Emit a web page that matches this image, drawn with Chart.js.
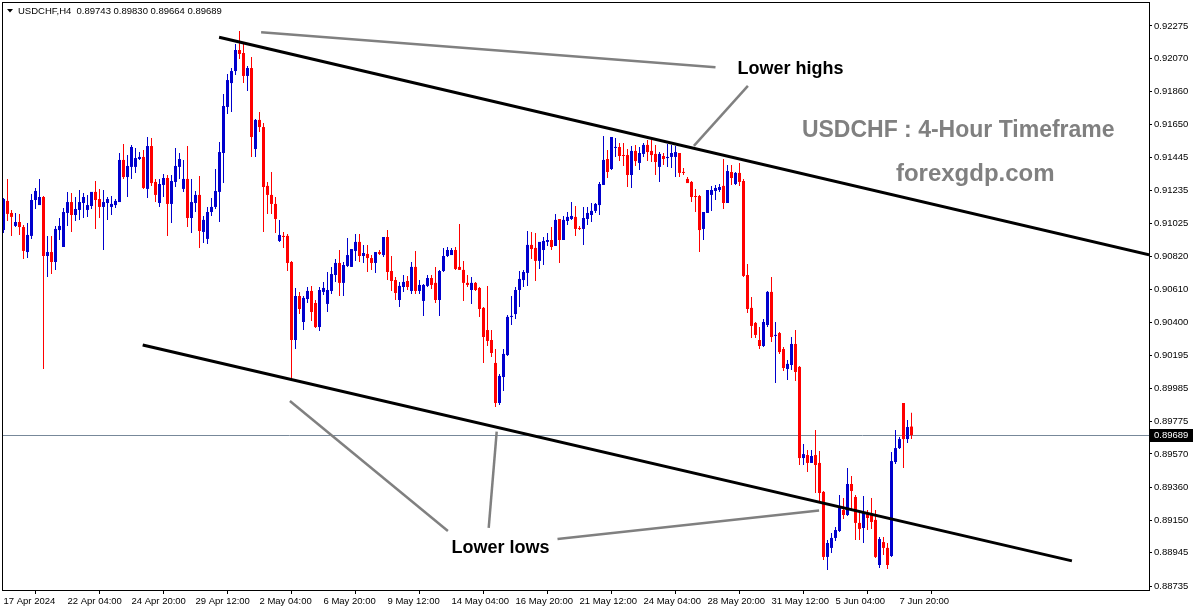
<!DOCTYPE html>
<html>
<head>
<meta charset="utf-8">
<title>USDCHF H4</title>
<script src="https://cdn.jsdelivr.net/npm/chart.js"></script>
<style>
  html, body { margin: 0; padding: 0; background: #fff; }
  #chart-container { position: relative; width: 1195px; height: 611px; }
</style>
</head>
<body>
<div id="chart-container"><canvas id="chart" width="1195" height="611"></canvas></div>
<script>
/*
  USDCHF H4 candles, channel lines and notes
*/
const symbol = "USDCHF,H4";

// candle prices, one entry per 4-hour bar, oldest first
const opens = [
  0.90985,0.91169,0.91093,0.91011,0.91036,0.91004,0.90846,0.90948,0.91175,0.91143,
  0.91194,0.90821,0.90846,0.90783,0.90985,0.90878,0.91093,0.91162,0.91080,0.91112,
  0.91156,0.91112,0.91137,0.91226,0.91181,0.91131,0.91156,0.91131,0.91143,0.91162,
  0.91428,0.91320,0.91384,0.91384,0.91434,0.91447,0.91245,0.91516,0.91289,0.91156,
  0.91270,0.91314,0.91150,0.91289,0.91384,0.91245,0.91308,0.91061,0.91156,0.91207,
  0.90973,0.90929,0.91099,0.91131,0.91226,0.91472,0.91763,0.91914,0.91990,0.92123,
  0.92104,0.91959,0.92009,0.91497,0.91681,0.91636,0.91264,0.91207,0.91150,0.90916,
  0.90948,0.90948,0.90783,0.90290,0.90568,0.90404,0.90549,0.90600,0.90524,0.90372,
  0.90594,0.90518,0.90600,0.90701,0.90777,0.90651,0.90758,0.90752,0.90853,0.90910,
  0.90821,0.90834,0.90808,0.90777,0.90846,0.90827,0.90941,0.90726,0.90669,0.90543,
  0.90625,0.90663,0.90600,0.90752,0.90600,0.90537,0.90632,0.90682,0.90651,0.90543,
  0.90726,0.90821,0.90827,0.90859,0.90752,0.90733,0.90651,0.90606,0.90651,0.90619,
  0.90493,0.90353,0.90290,0.90145,0.89892,0.90056,0.90195,0.90436,0.90454,0.90606,
  0.90669,0.90714,0.90891,0.90872,0.90790,0.90859,0.90910,0.90922,0.90884,0.91055,
  0.90922,0.91042,0.91055,0.91068,0.90998,0.90992,0.91055,0.91080,0.91106,0.91143,
  0.91270,0.91434,0.91371,0.91504,0.91510,0.91459,0.91459,0.91333,0.91485,0.91409,
  0.91466,0.91523,0.91485,0.91466,0.91384,0.91453,0.91440,0.91447,0.91447,0.91472,
  0.91352,0.91308,0.91289,0.91200,0.91200,0.90992,0.91093,0.91207,0.91232,0.91238,
  0.91264,0.91156,0.91352,0.91276,0.91346,0.91295,0.90701,0.90493,0.90398,0.90290,
  0.90252,0.90385,0.90594,0.90316,0.90334,0.90233,0.90107,0.90132,0.90265,0.90120,
  0.89544,0.89563,0.89513,0.89563,0.89513,0.89330,0.88919,0.88976,0.89039,0.89083,
  0.89216,0.89184,0.89380,0.89298,0.89134,0.89102,0.89197,0.89184,0.89153,0.88868,
  0.89013,0.88976,0.88925,0.89519,0.89607,0.89892,0.89664,0.89743
];
const highs = [
  0.91188,0.91308,0.91112,0.91093,0.91087,0.91017,0.91030,0.91213,0.91251,0.91308,
  0.91200,0.90948,0.90948,0.91011,0.91061,0.91124,0.91226,0.91219,0.91194,0.91238,
  0.91219,0.91207,0.91226,0.91295,0.91245,0.91238,0.91194,0.91200,0.91181,0.91472,
  0.91529,0.91459,0.91523,0.91504,0.91478,0.91491,0.91573,0.91567,0.91308,0.91308,
  0.91339,0.91333,0.91333,0.91504,0.91472,0.91428,0.91516,0.91308,0.91232,0.91327,
  0.91074,0.91131,0.91188,0.91371,0.91542,0.91845,0.91971,0.92009,0.92161,0.92243,
  0.92167,0.92022,0.92079,0.91687,0.91731,0.91661,0.91289,0.91352,0.91194,0.91049,
  0.90973,0.90960,0.90790,0.90619,0.90594,0.90568,0.90625,0.90632,0.90543,0.90625,
  0.90657,0.90720,0.90752,0.90802,0.90859,0.90783,0.90935,0.90865,0.90960,0.90960,
  0.90891,0.90891,0.90827,0.90846,0.90859,0.90941,0.90985,0.90821,0.90688,0.90657,
  0.90701,0.90695,0.90783,0.90853,0.90669,0.90644,0.90701,0.90701,0.90752,0.90733,
  0.90872,0.90878,0.90872,0.90878,0.91023,0.90790,0.90701,0.90688,0.90657,0.90625,
  0.90499,0.90632,0.90353,0.90233,0.90075,0.90233,0.90448,0.90568,0.90625,0.90726,
  0.90733,0.90979,0.90973,0.90966,0.90910,0.90941,0.90966,0.91004,0.91087,0.91055,
  0.91074,0.91099,0.91162,0.91137,0.91011,0.91131,0.91131,0.91156,0.91156,0.91289,
  0.91580,0.91491,0.91573,0.91567,0.91535,0.91535,0.91497,0.91516,0.91523,0.91510,
  0.91535,0.91554,0.91554,0.91523,0.91478,0.91472,0.91529,0.91523,0.91516,0.91472,
  0.91377,0.91320,0.91295,0.91245,0.91207,0.91099,0.91238,0.91264,0.91270,0.91276,
  0.91434,0.91396,0.91396,0.91352,0.91409,0.91308,0.90771,0.90562,0.90404,0.90372,
  0.90423,0.90600,0.90688,0.90404,0.90341,0.90246,0.90164,0.90309,0.90353,0.90126,
  0.89633,0.89595,0.89595,0.89721,0.89589,0.89336,0.89026,0.89070,0.89108,0.89311,
  0.89292,0.89481,0.89431,0.89311,0.89209,0.89304,0.89216,0.89292,0.89216,0.89045,
  0.89045,0.89007,0.89582,0.89721,0.89677,0.89892,0.89784,0.89830
];
const lows = [
  0.90966,0.91042,0.90948,0.91004,0.90954,0.90802,0.90808,0.90929,0.91118,0.91143,
  0.90107,0.90688,0.90707,0.90733,0.90922,0.90878,0.91011,0.90973,0.91042,0.91049,
  0.91061,0.91068,0.91118,0.90992,0.91061,0.90859,0.91049,0.91080,0.91124,0.91162,
  0.91308,0.91194,0.91308,0.91346,0.91428,0.91245,0.91188,0.91264,0.91162,0.91131,
  0.91194,0.90948,0.91030,0.91257,0.91308,0.91226,0.91004,0.90966,0.91099,0.90872,
  0.90903,0.90897,0.91074,0.91118,0.91036,0.91282,0.91719,0.91731,0.91965,0.92066,
  0.91914,0.91864,0.91447,0.91447,0.91605,0.90973,0.91087,0.91087,0.90966,0.90910,
  0.90872,0.90726,0.90044,0.90233,0.90454,0.90353,0.90524,0.90410,0.90366,0.90347,
  0.90575,0.90467,0.90581,0.90657,0.90568,0.90568,0.90752,0.90752,0.90790,0.90783,
  0.90777,0.90720,0.90733,0.90714,0.90827,0.90815,0.90669,0.90600,0.90543,0.90499,
  0.90594,0.90606,0.90581,0.90581,0.90581,0.90442,0.90625,0.90613,0.90524,0.90442,
  0.90720,0.90815,0.90827,0.90733,0.90733,0.90537,0.90625,0.90518,0.90600,0.90436,
  0.90145,0.90252,0.90183,0.89867,0.89879,0.89968,0.90189,0.90385,0.90423,0.90499,
  0.90625,0.90632,0.90802,0.90663,0.90739,0.90764,0.90884,0.90859,0.90884,0.90777,
  0.90922,0.91017,0.91049,0.90948,0.90985,0.90891,0.91017,0.91036,0.91093,0.91080,
  0.91270,0.91314,0.91365,0.91447,0.91421,0.91390,0.91257,0.91251,0.91390,0.91365,
  0.91447,0.91421,0.91415,0.91333,0.91289,0.91396,0.91384,0.91377,0.91320,0.91320,
  0.91333,0.91282,0.91162,0.91099,0.90846,0.90922,0.91093,0.91106,0.91175,0.91226,
  0.91118,0.91156,0.91270,0.91270,0.91264,0.90688,0.90461,0.90303,0.90303,0.90233,
  0.90246,0.90372,0.90278,0.90018,0.90202,0.90094,0.90037,0.90101,0.90031,0.89500,
  0.89500,0.89456,0.89513,0.89323,0.89266,0.88900,0.88837,0.88944,0.89020,0.89077,
  0.89159,0.89178,0.89216,0.89026,0.89026,0.89007,0.89089,0.89096,0.88912,0.88849,
  0.88931,0.88843,0.88919,0.89506,0.89601,0.89481,0.89639,0.89664
];
const closes = [
  0.91181,0.91087,0.91068,0.91036,0.91004,0.90853,0.90954,0.91175,0.91232,0.91194,
  0.90821,0.90846,0.90783,0.90992,0.91011,0.91099,0.91162,0.91080,0.91118,0.91162,
  0.91194,0.91143,0.91226,0.91175,0.91131,0.91162,0.91181,0.91150,0.91169,0.91428,
  0.91320,0.91390,0.91510,0.91440,0.91447,0.91251,0.91516,0.91282,0.91207,0.91276,
  0.91314,0.91150,0.91295,0.91390,0.91434,0.91308,0.91061,0.91162,0.91207,0.90979,
  0.91049,0.91099,0.91131,0.91232,0.91478,0.91769,0.91933,0.91990,0.92123,0.92098,
  0.91959,0.92009,0.91573,0.91681,0.91636,0.91257,0.91207,0.91150,0.91055,0.90954,
  0.90941,0.90777,0.90290,0.90568,0.90486,0.90556,0.90600,0.90467,0.90372,0.90606,
  0.90619,0.90606,0.90707,0.90777,0.90651,0.90764,0.90827,0.90865,0.90910,0.90821,
  0.90840,0.90808,0.90777,0.90846,0.90834,0.90941,0.90720,0.90663,0.90587,0.90632,
  0.90657,0.90625,0.90752,0.90600,0.90638,0.90638,0.90682,0.90638,0.90543,0.90726,
  0.90821,0.90859,0.90859,0.90739,0.90733,0.90651,0.90638,0.90651,0.90606,0.90486,
  0.90309,0.90284,0.90208,0.89892,0.90063,0.90202,0.90436,0.90442,0.90606,0.90676,
  0.90720,0.90891,0.90865,0.90790,0.90910,0.90916,0.90922,0.90878,0.91049,0.90922,
  0.91049,0.91068,0.91074,0.90992,0.90992,0.91061,0.91093,0.91106,0.91150,0.91276,
  0.91428,0.91352,0.91573,0.91510,0.91453,0.91453,0.91333,0.91485,0.91421,0.91472,
  0.91523,0.91478,0.91459,0.91415,0.91466,0.91434,0.91447,0.91472,0.91478,0.91346,
  0.91346,0.91282,0.91194,0.91194,0.90985,0.91099,0.91238,0.91238,0.91251,0.91257,
  0.91156,0.91358,0.91314,0.91346,0.91289,0.90695,0.90486,0.90379,0.90322,0.90252,
  0.90404,0.90594,0.90309,0.90322,0.90214,0.90113,0.90139,0.90265,0.90088,0.89544,
  0.89569,0.89513,0.89557,0.89500,0.89323,0.88919,0.89007,0.89039,0.89089,0.89228,
  0.89184,0.89380,0.89336,0.89134,0.89096,0.89197,0.89165,0.89140,0.88919,0.89032,
  0.88976,0.88868,0.89525,0.89607,0.89664,0.89664,0.89740,0.89689
];

// time axis labels (bar index -> text)
const tickBars = [0, 16, 32, 48, 64, 80, 96, 112, 128, 144, 160, 176, 192, 208, 224];
const tickText = ["17 Apr 2024", "22 Apr 04:00", "24 Apr 20:00", "29 Apr 12:00", "2 May 04:00",
  "6 May 20:00", "9 May 12:00", "14 May 04:00", "16 May 20:00", "21 May 12:00",
  "24 May 04:00", "28 May 20:00", "31 May 12:00", "5 Jun 04:00", "7 Jun 20:00"];

// price axis labels
const priceTicks = [0.92275, 0.92070, 0.91860, 0.91650, 0.91445, 0.91235, 0.91025, 0.90820, 0.90610,
  0.90400, 0.90195, 0.89985, 0.89775, 0.89570, 0.89360, 0.89150, 0.88945, 0.88735];
const yMin = 0.88710, yMax = 0.92420;
const barMin = -0.125, barMax = 286.375;

// channel lines and pointers, as (bar index, price)
const upperTrend = [{x: 53.9, y: 0.92203}, {x: 286.4, y: 0.90829}];
const lowerTrend = [{x: 34.8, y: 0.90259}, {x: 267.1, y: 0.88894}];
const pointers = [
  [{x: 64.4, y: 0.92235}, {x: 178.0, y: 0.92014}],
  [{x: 186.1, y: 0.91896}, {x: 172.6, y: 0.91517}],
  [{x: 71.6, y: 0.89905}, {x: 111.1, y: 0.89083}],
  [{x: 123.3, y: 0.89711}, {x: 121.3, y: 0.89102}],
  [{x: 138.5, y: 0.89033}, {x: 203.9, y: 0.89212}]
];

const BULL = "#0000cd", BEAR = "#ff0000";
const FONT = '"Liberation Sans", Arial, sans-serif';

const candleColors = closes.map((c, i) => c >= opens[i] ? BULL : BEAR);
const bodies = opens.map((o, i) => ({x: i, y: [o, closes[i]]}));
const wicks = lows.map((l, i) => ({x: i, y: [l, highs[i]]}));

function lineSet(points, color, width) {
  return {
    type: "line", data: points, borderColor: color, borderWidth: width,
    pointRadius: 0, tension: 0, order: 0
  };
}

// frame, bid line, price box, header and notes
const overlay = {
  id: "overlay",
  beforeDatasetsDraw(chart) {
    const {ctx, chartArea: a, scales: {y}} = chart;
    const py = Math.round(y.getPixelForValue(closes[closes.length - 1])) + 0.5;
    ctx.save();
    ctx.strokeStyle = "#778899";
    ctx.lineWidth = 1;
    ctx.beginPath();
    ctx.moveTo(a.left, py);
    ctx.lineTo(a.right, py);
    ctx.stroke();
    ctx.restore();
  },
  afterDraw(chart) {
    const {ctx, chartArea: a, scales: {x, y}} = chart;
    const last = closes.length - 1;
    ctx.save();

    ctx.strokeStyle = "#000";
    ctx.lineWidth = 1;
    ctx.strokeRect(a.left - 0.5, a.top - 0.5, a.right - a.left + 1, a.bottom - a.top + 1);

    // current price box on the axis
    const py = Math.round(y.getPixelForValue(closes[last]));
    ctx.fillStyle = "#000";
    ctx.fillRect(a.right + 1, py - 6, 43, 13);
    ctx.fillStyle = "#fff";
    ctx.font = "9.5px " + FONT;
    ctx.textBaseline = "middle";
    ctx.textAlign = "left";
    ctx.fillText(closes[last].toFixed(5), a.right + 5, py + 0.5);

    // header
    ctx.fillStyle = "#000";
    ctx.beginPath();
    ctx.moveTo(7, 9);
    ctx.lineTo(13, 9);
    ctx.lineTo(10, 12.5);
    ctx.closePath();
    ctx.fill();
    ctx.textBaseline = "alphabetic";
    ctx.font = "9.5px " + FONT;
    ctx.fillText(symbol + "  " + [opens[last], highs[last], lows[last], closes[last]]
      .map(v => v.toFixed(5)).join(" "), 18, 14);

    // notes
    ctx.font = "bold 18px " + FONT;
    ctx.fillText("Lower highs", x.getPixelForValue(183.5), y.getPixelForValue(0.91970));
    ctx.fillText("Lower lows", x.getPixelForValue(112.0), y.getPixelForValue(0.88946));
    ctx.fillStyle = "#808080";
    ctx.font = "bold 23px " + FONT;
    ctx.fillText("USDCHF : 4-Hour Timeframe", x.getPixelForValue(199.6), y.getPixelForValue(0.91575));
    ctx.font = "bold 24px " + FONT;
    ctx.fillText("forexgdp.com", x.getPixelForValue(223.1), y.getPixelForValue(0.91295));
    ctx.restore();
  }
};

const datasets = [
  lineSet(upperTrend, "#000", 3),
  lineSet(lowerTrend, "#000", 3)
].concat(pointers.map(p => lineSet(p, "#808080", 2.5)));

datasets.push({
  data: bodies, backgroundColor: candleColors, barThickness: 3,
  minBarLength: 1, inflateAmount: 0, borderWidth: 0, order: 1
});
datasets.push({
  data: wicks, backgroundColor: candleColors, barThickness: 1,
  inflateAmount: 0, borderWidth: 0, order: 2
});

new Chart(document.getElementById("chart"), {
  type: "bar",
  data: {datasets: datasets},
  options: {
    responsive: false,
    animation: false,
    devicePixelRatio: 1,
    layout: {padding: {left: 3, top: 3, right: 0, bottom: 0}},
    plugins: {legend: {display: false}, tooltip: {enabled: false}},
    datasets: {bar: {grouped: false}},
    scales: {
      x: {
        type: "linear", min: barMin, max: barMax, offset: false,
        afterBuildTicks: s => { s.ticks = tickBars.map(v => ({value: v})); },
        afterFit: s => { s.height = 21; s.paddingLeft = 0; s.paddingRight = 0; },
        grid: {drawOnChartArea: false, drawTicks: true, tickLength: 4, color: "#000"},
        border: {display: false},
        ticks: {
          autoSkip: false, maxRotation: 0, align: "start", padding: 2, color: "#000",
          font: {family: FONT, size: 9.5},
          callback: (v, i) => tickText[i]
        }
      },
      y: {
        position: "right", min: yMin, max: yMax, beginAtZero: false,
        afterBuildTicks: s => { s.ticks = priceTicks.map(v => ({value: v})); },
        afterFit: s => { s.width = 46; s.paddingTop = 0; s.paddingBottom = 0; },
        grid: {drawOnChartArea: false, drawTicks: true, tickLength: 3, color: "#000"},
        border: {display: false},
        ticks: {
          autoSkip: false, padding: 2, color: "#000",
          font: {family: FONT, size: 9.5},
          callback: v => v.toFixed(5)
        }
      }
    }
  },
  plugins: [overlay]
});
</script>
</body>
</html>
